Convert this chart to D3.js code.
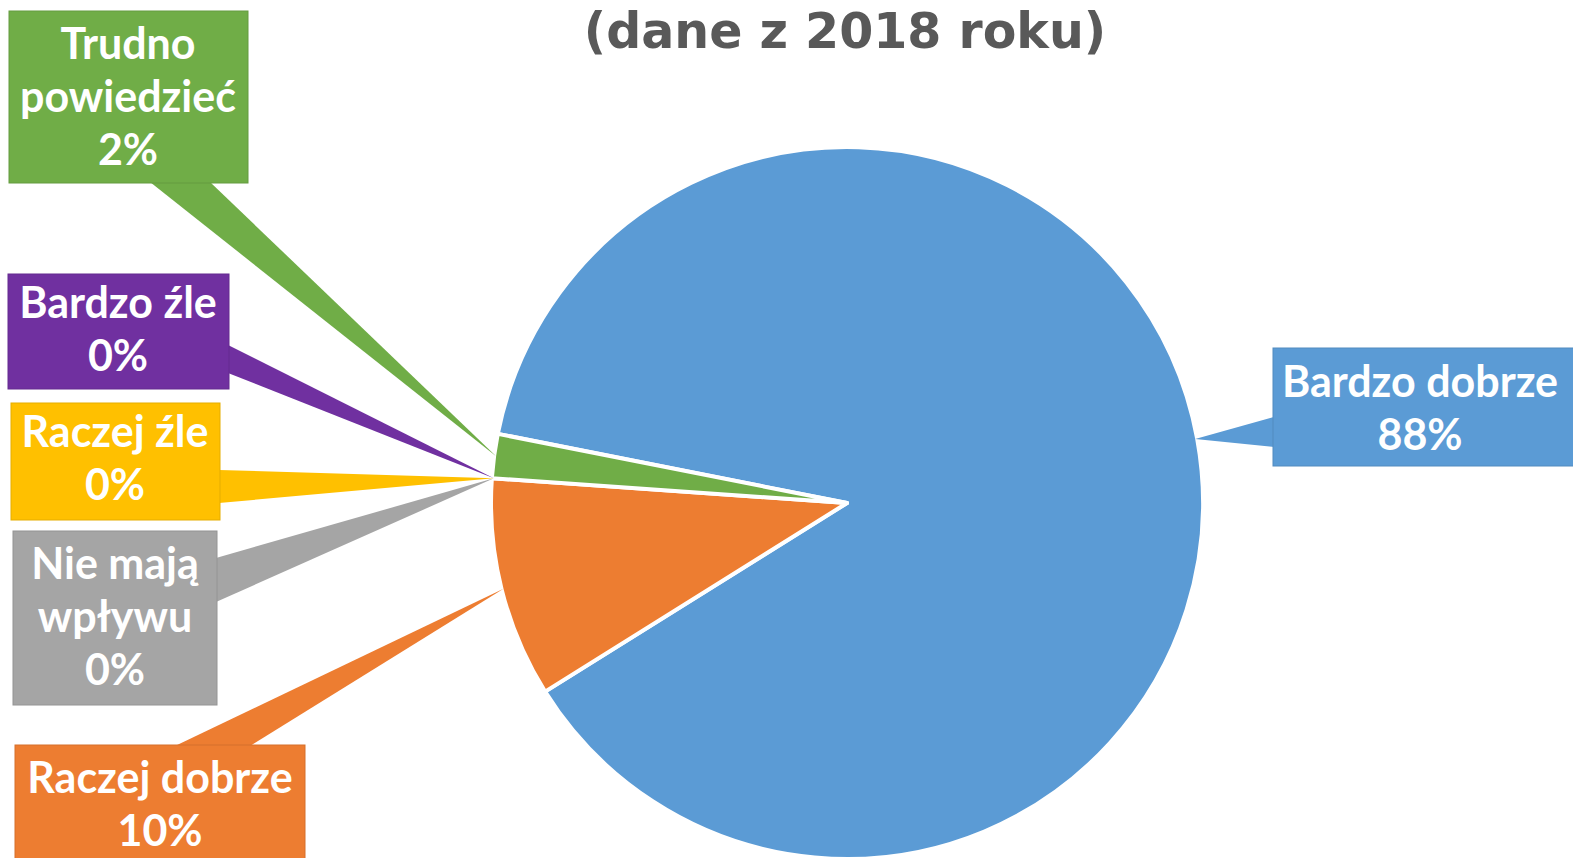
<!DOCTYPE html>
<html><head><meta charset="utf-8">
<script src="https://cdn.jsdelivr.net/npm/d3@7"></script>
<style>
html,body{margin:0;padding:0;background:#fff;}
svg{display:block;}
</style></head>
<body>
<svg id="chart" width="1573" height="858"></svg>
<script>
// ---- data ----
const categories = ["Bardzo dobrze", "Raczej dobrze", "Nie mają wpływu", "Raczej źle", "Bardzo źle", "Trudno powiedzieć"];
const values = [88, 10, 0, 0, 0, 2];
const labelLines = [["Bardzo dobrze"], ["Raczej dobrze"], ["Nie mają", "wpływu"], ["Raczej źle"], ["Bardzo źle"], ["Trudno", "powiedzieć"]];
const colors = ["#5B9BD5", "#ED7D31", "#A5A5A5", "#FFC000", "#7030A0", "#70AD47"];
const titleText = "(dane z 2018 roku)";

// ---- layout (styles/positions) ----
const cx = 847, cy = 503, R = 356;
const startDeg = -78.8;
const boxes = [
  {x:1273, y:348, w:320, h:118, tx:1420, ty:397, side:"left",   a:417, b:447},
  {x:15,   y:745, w:290, h:130, tx:160,  ty:793, side:"top",    a:175, b:250},
  {x:13,   y:531, w:204, h:174, tx:115,  ty:579, side:"right",  a:558, b:602},
  {x:11,   y:403, w:209, h:117, tx:115,  ty:447, side:"right",  a:470, b:503},
  {x:8,    y:274, w:221, h:115, tx:118,  ty:318, side:"right",  a:345, b:373},
  {x:9,    y:11,  w:239, h:172, tx:128,  ty:59,  side:"bottom", a:150, b:210}
];
const lineH = 53;

const svg = d3.select("#chart");

svg.append("text")
  .attr("x", 845).attr("y", 48)
  .attr("text-anchor", "middle")
  .attr("font-family", "DejaVu Sans")
  .attr("font-weight", "bold")
  .attr("font-size", 49)
  .attr("fill", "#595959")
  .text(titleText);

const data = categories.map((c, i) => ({cat: c, value: values[i], color: colors[i], lines: labelLines[i], box: boxes[i]}));

const start = startDeg * Math.PI / 180;
const pie = d3.pie().sort(null).value(d => d.value).startAngle(start).endAngle(start + 2 * Math.PI);
const arcs = pie(data);
const arc = d3.arc().innerRadius(0).outerRadius(R);

const g = svg.append("g").attr("transform", `translate(${cx},${cy})`);

const ptr = svg.append("g");
arcs.forEach(a => {
  const b = a.data.box;
  const mid = (a.startAngle + a.endAngle) / 2;
  const tip = [cx + Math.sin(mid) * (R - 2), cy - Math.cos(mid) * (R - 2)];
  let p1, p2;
  if (b.side === "left")   { p1 = [b.x + 1, b.a]; p2 = [b.x + 1, b.b]; }
  if (b.side === "right")  { p1 = [b.x + b.w - 1, b.a]; p2 = [b.x + b.w - 1, b.b]; }
  if (b.side === "top")    { p1 = [b.a, b.y + 1]; p2 = [b.b, b.y + 1]; }
  if (b.side === "bottom") { p1 = [b.a, b.y + b.h - 1]; p2 = [b.b, b.y + b.h - 1]; }
  ptr.append("path")
    .attr("d", d3.line()([p1, p2, tip]) + "Z")
    .attr("fill", a.data.color);
});

g.selectAll("path.slice")
  .data(arcs.filter(a => a.data.value > 0))
  .join("path")
  .attr("class", "slice")
  .attr("d", arc)
  .attr("fill", d => d.data.color)
  .attr("stroke", "#fff")
  .attr("stroke-width", 4)
  .attr("stroke-linejoin", "round");

const lab = svg.append("g");
arcs.forEach(a => {
  const b = a.data.box;
  lab.append("rect")
    .attr("x", b.x).attr("y", b.y).attr("width", b.w).attr("height", b.h)
    .attr("fill", a.data.color)
    .attr("stroke", d3.color(a.data.color).darker(0.3))
    .attr("stroke-width", 1);
  const lines = a.data.lines.concat([d3.format(".0f")(a.data.value) + "%"]);
  const t = lab.append("text")
    .attr("text-anchor", "middle")
    .attr("font-family", "Lato")
    .attr("font-weight", "bold")
    .attr("font-size", 43)
    .attr("fill", "#fff");
  lines.forEach((l, i) => {
    t.append("tspan").attr("x", b.tx).attr("y", b.ty + i * lineH).text(l);
  });
});
</script>
</body></html>
